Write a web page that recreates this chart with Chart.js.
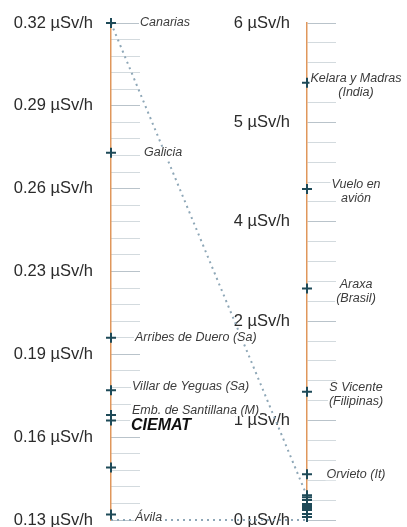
<!DOCTYPE html>
<html><head><meta charset="utf-8">
<script src="https://cdn.jsdelivr.net/npm/chart.js@4"></script>
<style>html,body{margin:0;padding:0;background:#fff;overflow:hidden}</style>
</head><body>
<canvas id="c" width="407" height="527"></canvas>
<script>
// ---- data ----
const UNIT = 'µSv/h';
const LEFT_TICKS = [0.13, 0.16, 0.19, 0.23, 0.26, 0.29, 0.32];
const RIGHT_TICKS = [0, 1, 2, 4, 5, 6];
const LEFT_NAMES = ['Canarias', 'Galicia', 'Arribes de Duero (Sa)', 'Villar de Yeguas (Sa)', 'Emb. de Santillana (M)', 'CIEMAT', '', 'Ávila'];
const LEFT_VALUES = [0.32, 0.273, 0.198, 0.177, 0.168, 0.166, 0.149, 0.132];
const RIGHT_NAMES = [['Kelara y Madras', '(India)'], ['Vuelo en', 'avión'], ['Araxa', '(Brasil)'], ['S Vicente', '(Filipinas)'], ['Orvieto (It)'], [], [], [], [], [], [], [], [], []];
const RIGHT_VALUES = [5.40, 4.33, 2.66, 1.29, 0.46, 0.25, 0.23, 0.20, 0.16, 0.14, 0.12, 0.10, 0.06, 0.03];
const LINK_FROM = [0.32, 0.13];   // on left scale
const LINK_TO = [0.24, 0];        // on right scale

// ---- layout / style (kept apart from data) ----
const LEFT_LABEL_DX = [29, 33, 24, 21, 21, 20, 0, 24];
const LEFT_LABEL_DY = [0, 0, 0, -4, -5, 5, 0, 3];
const ORANGE = '#e0975c';
const MARK = '#1e4a58';
const TEXT = '#2b2b2b';
const LABEL = '#3c3c3c';
const FAMILY = '"Liberation Sans", Arial, Helvetica, sans-serif';

function toPos(ticks, v) {
  for (let i = 0; i < ticks.length - 1; i++) {
    if (v <= ticks[i + 1] || i === ticks.length - 2) {
      return i + (v - ticks[i]) / (ticks[i + 1] - ticks[i]);
    }
  }
  return 0;
}
function isMajor(v) { return Math.abs(v - Math.round(v)) < 1e-6; }
function tickCb(ticks) {
  return function (v) { return isMajor(v) ? ticks[Math.round(v)] + ' ' + UNIT : ''; };
}
function tickColor(c) { return isMajor(c.tick.value) ? '#b9c3ca' : '#d3dade'; }

const linkPlugin = {
  id: 'links',
  beforeDatasetsDraw(chart) {
    const {ctx, scales} = chart;
    ctx.save();
    ctx.strokeStyle = '#8ea7b7';
    ctx.lineWidth = 2;
    ctx.setLineDash([2, 4]);
    for (let i = 0; i < LINK_FROM.length; i++) {
      ctx.beginPath();
      ctx.moveTo(scales.x.getPixelForValue(0), scales.yL.getPixelForValue(toPos(LEFT_TICKS, LINK_FROM[i])));
      ctx.lineTo(scales.x.getPixelForValue(1), scales.yR.getPixelForValue(toPos(RIGHT_TICKS, LINK_TO[i])));
      ctx.stroke();
    }
    ctx.restore();
  }
};

function bgText(ctx, txt, x, y, align) {
  const w = ctx.measureText(txt).width;
  const x0 = align === 'center' ? x - w / 2 : x;
  ctx.save();
  ctx.fillStyle = '#fff';
  ctx.fillRect(x0 - 1, y - 6, w + 2, 12);
  ctx.restore();
  ctx.fillText(txt, x, y);
}

const labelPlugin = {
  id: 'pointLabels',
  afterDatasetsDraw(chart) {
    const {ctx} = chart;
    ctx.save();
    ctx.textBaseline = 'middle';
    chart.getDatasetMeta(0).data.forEach((p, i) => {
      const name = LEFT_NAMES[i];
      if (!name) return;
      if (name === 'CIEMAT') { ctx.font = 'italic bold 16px ' + FAMILY; ctx.fillStyle = '#111'; }
      else { ctx.font = 'italic 12.5px ' + FAMILY; ctx.fillStyle = LABEL; }
      ctx.textAlign = 'left';
      bgText(ctx, name, p.x + LEFT_LABEL_DX[i], p.y + LEFT_LABEL_DY[i], 'left');
    });
    ctx.font = 'italic 12.5px ' + FAMILY;
    ctx.fillStyle = LABEL;
    ctx.textAlign = 'center';
    chart.getDatasetMeta(1).data.forEach((p, i) => {
      const lines = RIGHT_NAMES[i];
      if (!lines || !lines.length) return;
      const y0 = lines.length > 1 ? p.y - 4 : p.y;
      lines.forEach((t, k) => bgText(ctx, t, p.x + 49, y0 + k * 14, 'center'));
    });
    ctx.restore();
  }
};

const pointStyleOpts = {
  showLine: false, pointStyle: 'cross', pointRadius: 5, pointHoverRadius: 5,
  pointBorderWidth: 2, pointBorderColor: MARK, pointBackgroundColor: MARK, clip: false
};

function fitTo(width) {
  return function (s) { s.width = width; s.paddingTop = 0; s.paddingBottom = 0; };
}

new Chart(document.getElementById('c'), {
  type: 'line',
  data: {
    labels: ['L', 'R'],
    datasets: [
      Object.assign({label: 'izquierda', yAxisID: 'yL',
        data: LEFT_VALUES.map(v => ({x: 'L', y: toPos(LEFT_TICKS, v)}))}, pointStyleOpts),
      Object.assign({label: 'derecha', yAxisID: 'yR',
        data: RIGHT_VALUES.map(v => ({x: 'R', y: toPos(RIGHT_TICKS, v)}))}, pointStyleOpts)
    ]
  },
  options: {
    responsive: false, animation: false, devicePixelRatio: 1,
    layout: {padding: {top: 23, bottom: 7, left: 0, right: 0}},
    plugins: {legend: {display: false}, tooltip: {enabled: false}},
    events: [],
    scales: {
      x: {type: 'category', display: false, offset: false},
      yL: {
        type: 'linear', position: 'left', weight: 1, min: 0, max: LEFT_TICKS.length - 1,
        afterFit: fitTo(111),
        border: {color: ORANGE, width: 1.5},
        grid: {drawOnChartArea: false, tickLength: -29, tickColor: tickColor, tickWidth: 1},
        ticks: {stepSize: 0.2, autoSkip: false, maxTicksLimit: 200, padding: 47,
          callback: tickCb(LEFT_TICKS), color: TEXT, font: {family: FAMILY, size: 16.5}}
      },
      yR: {
        type: 'linear', position: 'right', min: 0, max: RIGHT_TICKS.length - 1,
        afterFit: fitTo(100),
        border: {color: ORANGE, width: 1.5},
        grid: {drawOnChartArea: false, tickLength: 29, tickColor: tickColor, tickWidth: 1},
        ticks: {stepSize: 0.2, autoSkip: false, maxTicksLimit: 200, mirror: true, padding: -17,
          callback: tickCb(RIGHT_TICKS), color: TEXT, font: {family: FAMILY, size: 16.5}}
      }
    }
  },
  plugins: [linkPlugin, labelPlugin]
});
</script>
</body></html>
